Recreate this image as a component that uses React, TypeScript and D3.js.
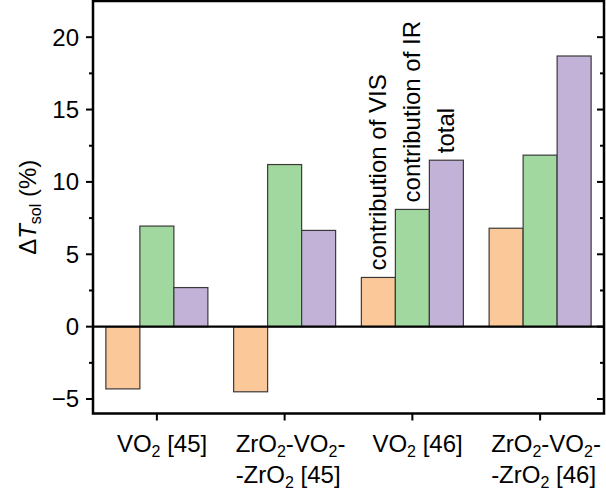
import React from 'react';
import * as d3 from 'd3';

// categories (line 1 / line 2 of each label, subscript marked with _)
const categories = ['VO2 [45]', 'ZrO2-VO2--ZrO2 [45]', 'VO2 [46]', 'ZrO2-VO2--ZrO2 [46]'];
const seriesNames = ['contribution of VIS', 'contribution of IR', 'total'];
const seriesColors = ['#fbc999', '#a1d89f', '#c3b2d7'];

const visValues = [-4.3, -4.5, 3.4, 6.8];
const irValues = [6.95, 11.2, 8.1, 11.85];
const totalValues = [2.7, 6.65, 11.5, 18.7];

const yTicks = [-5, 0, 5, 10, 15, 20];
const yMinorTicks = [-2.5, 2.5, 7.5, 12.5, 17.5];
const labelledGroup = 2;

type Part = { t: string; sub?: boolean };
// label lines for each category
const labelLines: Part[][][] = [
  [[{ t: 'VO' }, { t: '2', sub: true }, { t: ' [45]' }]],
  [
    [{ t: 'ZrO' }, { t: '2', sub: true }, { t: '-VO' }, { t: '2', sub: true }, { t: '-' }],
    [{ t: '-ZrO' }, { t: '2', sub: true }, { t: ' [45]' }],
  ],
  [[{ t: 'VO' }, { t: '2', sub: true }, { t: ' [46]' }]],
  [
    [{ t: 'ZrO' }, { t: '2', sub: true }, { t: '-VO' }, { t: '2', sub: true }, { t: '-' }],
    [{ t: '-ZrO' }, { t: '2', sub: true }, { t: ' [46]' }],
  ],
];

const App = () => {
  const width = 606;
  const height = 499;
  const left = 93;
  const right = 604;
  const top = 1;
  const bottom = 413.5;
  const font = "Arial, 'Liberation Sans', sans-serif";

  const series = [visValues, irValues, totalValues];

  const x = d3.scaleBand<string>().domain(categories).range([left, right]).padding(0);
  const xSub = d3
    .scaleBand<number>()
    .domain([0, 1, 2])
    .range([-51, 51])
    .padding(0);
  const y = d3.scaleLinear().domain([-6, 22.5]).range([bottom, top]);

  const renderParts = (parts: Part[]) => {
    let shifted = false;
    return parts.map((p, i) => {
      let dy = 0;
      if (p.sub && !shifted) {
        dy = 5;
        shifted = true;
      } else if (!p.sub && shifted) {
        dy = -5;
        shifted = false;
      }
      return (
        <tspan key={i} dy={dy} fontSize={p.sub ? 16 : 24}>
          {p.t}
        </tspan>
      );
    });
  };

  return (
    <svg
      width={width}
      height={height}
      style={{ position: 'absolute', left: 0, top: 0, background: '#fff' }}
      fontFamily={font}
    >
      {/* bars */}
      {categories.map((c, ci) => (
        <g key={c}>
          {series.map((vals, si) => {
            const v = vals[ci];
            const bx = (x(c) ?? 0) + x.bandwidth() / 2 + (xSub(si) ?? 0);
            return (
              <rect
                key={si}
                x={bx}
                y={Math.min(y(v), y(0))}
                width={xSub.bandwidth()}
                height={Math.abs(y(v) - y(0))}
                fill={seriesColors[si]}
                stroke="#3a3a3a"
                strokeWidth={1.2}
              />
            );
          })}
        </g>
      ))}

      {/* series labels above the third group */}
      {seriesNames.map((name, si) => {
        const c = categories[labelledGroup];
        const cx = (x(c) ?? 0) + x.bandwidth() / 2 + (xSub(si) ?? 0) + xSub.bandwidth() / 2;
        const ty = y(series[si][labelledGroup]) - 7;
        return (
          <text
            key={name}
            transform={`translate(${cx + 8},${ty}) rotate(-90)`}
            fontSize={24}
            textAnchor="start"
          >
            {name}
          </text>
        );
      })}

      {/* zero line */}
      <line x1={left} x2={right} y1={y(0)} y2={y(0)} stroke="#000" strokeWidth={2.2} />

      {/* frame */}
      <rect
        x={left}
        y={top}
        width={right - left}
        height={bottom - top}
        fill="none"
        stroke="#000"
        strokeWidth={2.5}
      />

      {/* y ticks */}
      {yTicks.map((t) => (
        <g key={t}>
          <line x1={left - 7} x2={left} y1={y(t)} y2={y(t)} stroke="#000" strokeWidth={2} />
          <line x1={right - 7} x2={right} y1={y(t)} y2={y(t)} stroke="#000" strokeWidth={2} />
          <text x={79} y={y(t)} dy="0.35em" fontSize={24} textAnchor="end">
            {t < 0 ? `\u2212${Math.abs(t)}` : t}
          </text>
        </g>
      ))}
      {yMinorTicks.map((t) => (
        <g key={t}>
          <line x1={left - 4} x2={left} y1={y(t)} y2={y(t)} stroke="#000" strokeWidth={2} />
          <line x1={right - 4} x2={right} y1={y(t)} y2={y(t)} stroke="#000" strokeWidth={2} />
        </g>
      ))}

      {/* x ticks and labels */}
      {categories.map((c, ci) => {
        const cx = (x(c) ?? 0) + x.bandwidth() / 2;
        const lines = labelLines[ci];
        const offset = lines.length > 1 ? -49 : -40;
        return (
          <g key={c}>
            <line x1={cx} x2={cx} y1={bottom} y2={bottom + 7} stroke="#000" strokeWidth={2} />
            {lines.map((ln, li) => (
              <text key={li} x={cx + offset} y={452 + li * 31} fontSize={24}>
                {renderParts(ln)}
              </text>
            ))}
          </g>
        );
      })}

      {/* y axis title */}
      <text
        transform={`translate(36,${(top + bottom) / 2}) rotate(-90)`}
        textAnchor="middle"
        fontSize={24}
      >
        <tspan>{'\u0394'}</tspan>
        <tspan fontStyle="italic">T</tspan>
        <tspan fontSize={16} dy={5}>
          sol
        </tspan>
        <tspan dy={-5}> (%)</tspan>
      </text>
    </svg>
  );
};

export default App;
